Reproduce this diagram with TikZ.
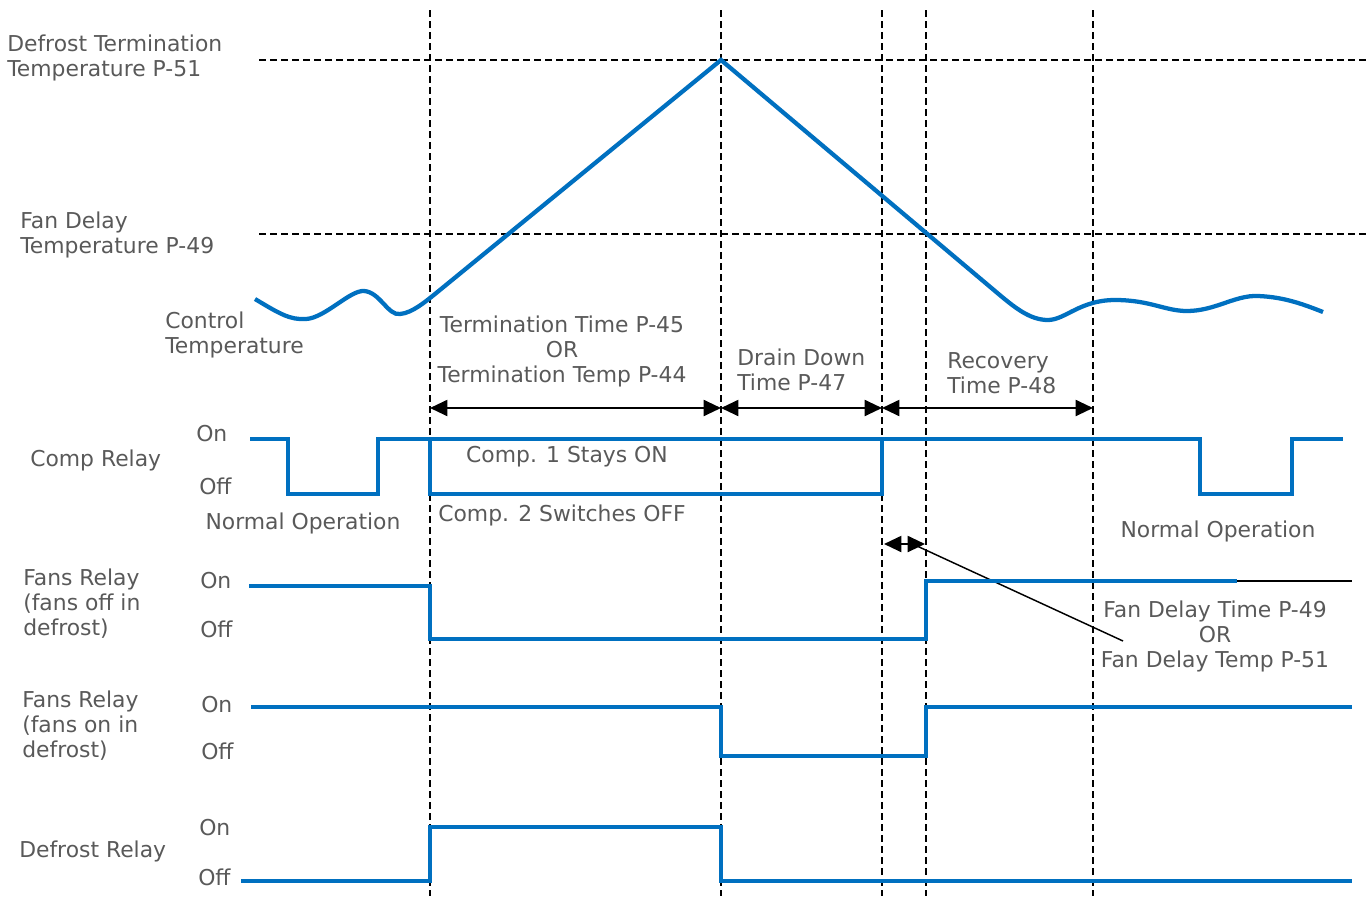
\documentclass[tikz,border=0pt]{standalone}
\usepackage{fontspec}
\setmainfont{DejaVu Sans}
\usetikzlibrary{arrows.meta}
\definecolor{relayblue}{HTML}{0070C0}
\definecolor{textgray}{HTML}{595959}

\begin{document}
\begin{tikzpicture}[x = 0.75pt, y = -0.75pt,
                    relay/.style = {line width = 3.2pt, draw = relayblue},
                    guide/.style = {line width = 1.5pt, dash pattern = on 5.25pt off 3pt},
                    dimline/.style = {line width = 1.5pt, >={Triangle[length = 13pt, width = 12pt]}, <->},
                    txt/.style = {text = textgray, inner sep = 0pt, font = \fontsize{16.4}{18.75}\selectfont}]
  \useasboundingbox (0,0) rectangle (1370,896);

  % guide lines
  \draw [guide] (259,60) -- (1370,60);
  \draw [guide] (259,234) -- (1370,234);
  \foreach \x in {430, 721, 882, 926, 1093}
    \draw [guide] (\x,10) -- (\x,896);

  % control temperature
  \draw [relay] (255,299) .. controls (280,314) and (290,320) .. (306,319)
    .. controls (325,318) and (350,290) .. (364,291)
    .. controls (380,292) and (388,316) .. (400,314)
    .. controls (412,313) and (425,302) .. (435,294)
    -- (721,60) -- (995,291)
    .. controls (1015,308) and (1030,320) .. (1048,320)
    .. controls (1065,320) and (1080,300) .. (1115,300)
    .. controls (1150,300) and (1165,311) .. (1187,311)
    .. controls (1215,311) and (1235,295) .. (1258,296)
    .. controls (1285,297) and (1305,305) .. (1323,312);

  \node [txt, anchor = west, align = left] (DTT) at (7,58) {Defrost Termination\\Temperature P-51};
  \node [txt, anchor = west, align = left] (FDT) at (20,235) {Fan Delay\\Temperature P-49};
  \node [txt, anchor = west, align = left] (CT) at (165,334.5) {Control\\Temperature};

  % periods
  \coordinate (P1) at (430,408);
  \coordinate (P2) at (721,408);
  \coordinate (P3) at (882,408);
  \coordinate (P4) at (1093,408);
  \draw [dimline] (P1) -- (P2);
  \draw [dimline] (P2) -- (P3);
  \draw [dimline] (P3) -- (P4);
  \node [txt, align = center] (TT) at (562,351.5) {Termination Time P-45\\OR\\Termination Temp P-44};
  \node [txt, anchor = west, align = left] (DD) at (737,369.5) {Drain Down\\Time P-47};
  \node [txt, anchor = west, align = left] (RT) at (947,373) {Recovery\\Time P-48};

  % comp relay
  \draw [relay] (250,439) -- (288,439) -- (288,494) -- (378,494) -- (378,439) -- (1200,439)
    -- (1200,494) -- (1292,494) -- (1292,439) -- (1343,439);
  \draw [relay] (430,439) -- (430,494) -- (882,494) -- (882,439);
  \node [txt, anchor = base west] (CR) at (30,466) {Comp Relay};
  \node [txt, anchor = base west] (CROn) at (196,441) {On};
  \node [txt, anchor = base west] (CROff) at (199,494) {Off};
  \node [txt, anchor = base] (C1) at (567,462) {Comp. 1 Stays ON};
  \node [txt, anchor = base] (C2) at (562,521) {Comp. 2 Switches OFF};
  \node [txt, anchor = base] (NO1) at (303,529) {Normal Operation};
  \node [txt, anchor = base] (NO2) at (1218,537) {Normal Operation};

  % fan delay
  \coordinate (FD1) at (884,544);
  \coordinate (FD2) at (925,544);
  \coordinate (FD3) at (917,546);
  \coordinate (FD4) at (1123,641);
  \draw [dimline] (FD1) -- (FD2);
  \draw [line width = 1.1pt] (FD3) -- (FD4);
  \node [txt, align = center] (FDL) at (1215,636.5) {Fan Delay Time P-49\\OR\\Fan Delay Temp P-51};

  % fans relay, off in defrost
  \draw [relay] (249,586) -- (430,586) -- (430,639) -- (926,639) -- (926,581) -- (1237,581);
  \draw [line width = 1.1pt] (1237,581) -- (1352,581);
  \node [txt, anchor = west, align = left] (FR1) at (23,604) {Fans Relay\\(fans off in\\defrost)};
  \node [txt, anchor = base west] (FR1On) at (200,588) {On};
  \node [txt, anchor = base west] (FR1Off) at (200,637) {Off};

  % fans relay, on in defrost
  \draw [relay] (251,707) -- (721,707) -- (721,756) -- (926,756) -- (926,707) -- (1352,707);
  \node [txt, anchor = west, align = left] (FR2) at (22,726) {Fans Relay\\(fans on in\\defrost)};
  \node [txt, anchor = base west] (FR2On) at (201,712) {On};
  \node [txt, anchor = base west] (FR2Off) at (201,759) {Off};

  % defrost relay
  \draw [relay] (241,881) -- (430,881) -- (430,827) -- (721,827) -- (721,881) -- (1352,881);
  \node [txt, anchor = base west] (DR) at (19,857) {Defrost Relay};
  \node [txt, anchor = base west] (DROn) at (199,835) {On};
  \node [txt, anchor = base west] (DROff) at (198,885) {Off};
\end{tikzpicture}
\end{document}
